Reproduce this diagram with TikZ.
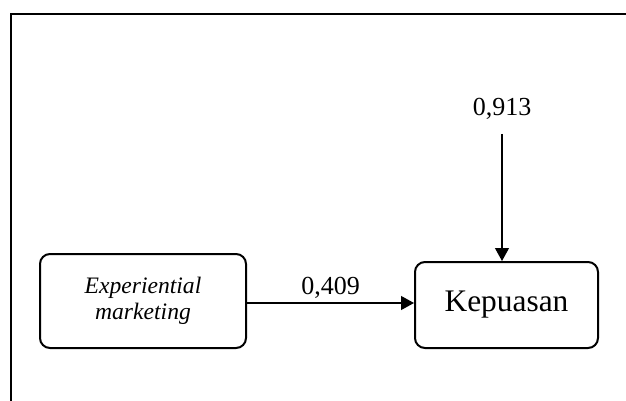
\documentclass[tikz,border=0pt]{standalone}
\usepackage{fontspec}
\setmainfont{Liberation Serif}
\usetikzlibrary{positioning, arrows.meta}
\tikzset {
    >={Triangle[length=6.5pt,width=7pt]},
    var/.style={draw, line width=1pt, rounded corners=5pt, align=center},
    lbl/.style={inner sep=1pt, font=\fontsize{13}{15}\selectfont}
}

\begin{document}
\begin{tikzpicture}[
  x=0.5pt, y=-0.5pt,
  every path/.style={line width=0.6pt}
  ]
\useasboundingbox (0,0) rectangle (626,401);

% frame
\draw[line width=1.3pt] (11,401) -- (11,14) -- (626,14);

\node[var, minimum width=103pt, minimum height=47pt,
      font=\fontsize{11.8}{13}\selectfont\itshape] (exp) at (143,301)
      {Experiential\\marketing};
\node[var, minimum width=91.5pt, minimum height=43pt,
      font=\fontsize{15.7}{18}\selectfont] (kep) at (506.5,305) {Kepuasan};

\coordinate (err) at (502,134);
\node[lbl, above=6pt of err] (e913) {0,913};

\draw[->] (exp.east |- 0,303) -- node[lbl, above=1pt] (p409) {0,409} (kep.west |- 0,303);
\draw[->] (err) -- (err |- kep.north);

\end{tikzpicture}
\end{document}
